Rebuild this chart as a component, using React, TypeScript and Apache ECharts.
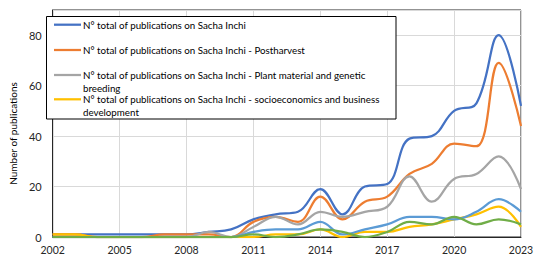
import React, { useEffect, useRef } from "react";
import * as echarts from "echarts";

const years = ["2002","2003","2004","2005","2006","2007","2008","2009","2010","2011","2012","2013","2014","2015","2016","2017","2018","2019","2020","2021","2022","2023"];

const seriesNames = [
  "N° total of publications on Sacha Inchi",
  "N° total of publications on Sacha Inchi - Postharvest",
  "N° total of publications on Sacha Inchi - Plant material and genetic breeding",
  "N° total of publications on Sacha Inchi - socioeconomics and business development",
  "N° total of publications on Sacha Inchi - series 5",
  "N° total of publications on Sacha Inchi - series 6",
];

const legendLabels = [
  "N° total of publications on Sacha Inchi",
  "N° total of publications on Sacha Inchi - Postharvest",
  "N° total of publications on Sacha Inchi - Plant material and genetic\nbreeding",
  "N° total of publications on Sacha Inchi - socioeconomics and business\ndevelopment",
];

const total = [1,1,1,1,1,1,1,2,3,7,9,10,19,9,20,21,39,40,50,53,80,52];
const postharvest = [1,1,0,0,0,1,1,1,0,6,8,6,16,7,14,16,25,29,37,36,69,44];
const plantMaterial = [0,0,0,0,0,0,0,2,0,4,8,5,10,8,10,12,24,14,23,25,32,19];
const socioeconomics = [1,1,0,0,0,0,0,0,0,0,1,1,3,0,2,2,4,5,7,9,12,4];
const series5 = [0,0,0,0,0,0,0,0,0,2,3,3,6,1,3,5,8,8,7,10,15,10];
const series6 = [0,0,0,0,0,0,0,0,0,1,0,1,3,2,0,2,6,5,8,5,7,5];

const seriesData = [total, postharvest, plantMaterial, socioeconomics, series5, series6];
const colors = ["#4472C4", "#ED7D31", "#A5A5A5", "#FFC000", "#5B9BD5", "#70AD47"];

const FONT = "Lato";

export default function App() {
  const ref = useRef<HTMLDivElement>(null);
  useEffect(() => {
    document.body.style.margin = "0";
    if (!ref.current) return;
    const chart = echarts.init(ref.current, undefined, { renderer: "svg" });

    const legendRowY = [24.7, 50, 75, 99.3];
    const legendGraphics: any[] = [
      {
        type: "rect",
        z: 100,
        shape: { x: 46.5, y: 16.5, width: 349.5, height: 102.5 },
        style: { fill: "#fff", stroke: "#000", lineWidth: 1 },
      },
    ];
    legendLabels.forEach((label, i) => {
      const y = legendRowY[i];
      legendGraphics.push({
        type: "line",
        z: 101,
        shape: { x1: 54, y1: y, x2: 81, y2: y },
        style: { stroke: colors[i], lineWidth: 2.25 },
      });
      legendGraphics.push({
        type: "text",
        z: 101,
        x: 83,
        y: y - 6.5,
        style: {
          text: label,
          fill: "#000",
          font: `9.75px ${FONT}`,
          lineHeight: 13,
          verticalAlign: "top",
          align: "left",
        },
      });
    });

    chart.setOption({
      animation: false,
      textStyle: { fontFamily: FONT },
      grid: {
        left: 41,
        right: 20,
        top: 10,
        bottom: 27,
        show: true,
        borderColor: "#262626",
        borderWidth: 1,
        backgroundColor: "transparent",
      },
      xAxis: {
        type: "category",
        data: years,
        boundaryGap: false,
        axisLine: { show: true, lineStyle: { color: "#262626", width: 1 } },
        axisTick: { show: false },
        axisLabel: { interval: 2, color: "#262626", fontSize: 10.5, margin: 7, fontFamily: FONT },
        splitLine: { show: true, interval: 2, lineStyle: { color: "#d9d9d9", width: 1 } },
      },
      yAxis: {
        type: "value",
        min: 0,
        max: 90,
        interval: 20,
        name: "Number of publications",
        nameLocation: "middle",
        nameGap: 33,
        nameRotate: 90,
        nameTextStyle: { color: "#000", fontSize: 10, fontFamily: FONT, padding: [0, 20, 0, 0] },
        axisLine: { show: true, lineStyle: { color: "#262626", width: 1 } },
        axisTick: { show: false },
        axisLabel: {
          color: "#262626",
          fontSize: 11,
          margin: 11,
          fontFamily: FONT,
          showMaxLabel: false,
          formatter: (v: number) => (v > 80 ? "" : String(v)),
        },
        splitLine: { show: true, lineStyle: { color: "#d9d9d9", width: 1 } },
      },
      series: seriesData.map((d, i) => ({
        name: seriesNames[i],
        type: "line",
        data: d,
        smooth: 0.4,
        symbol: "none",
        lineStyle: { color: colors[i], width: 2.25 },
        itemStyle: { color: colors[i] },
        z: 2 + i,
      })),
      graphic: legendGraphics,
    });

    return () => chart.dispose();
  }, []);
  return <div ref={ref} style={{ width: 541, height: 264 }} />;
}
